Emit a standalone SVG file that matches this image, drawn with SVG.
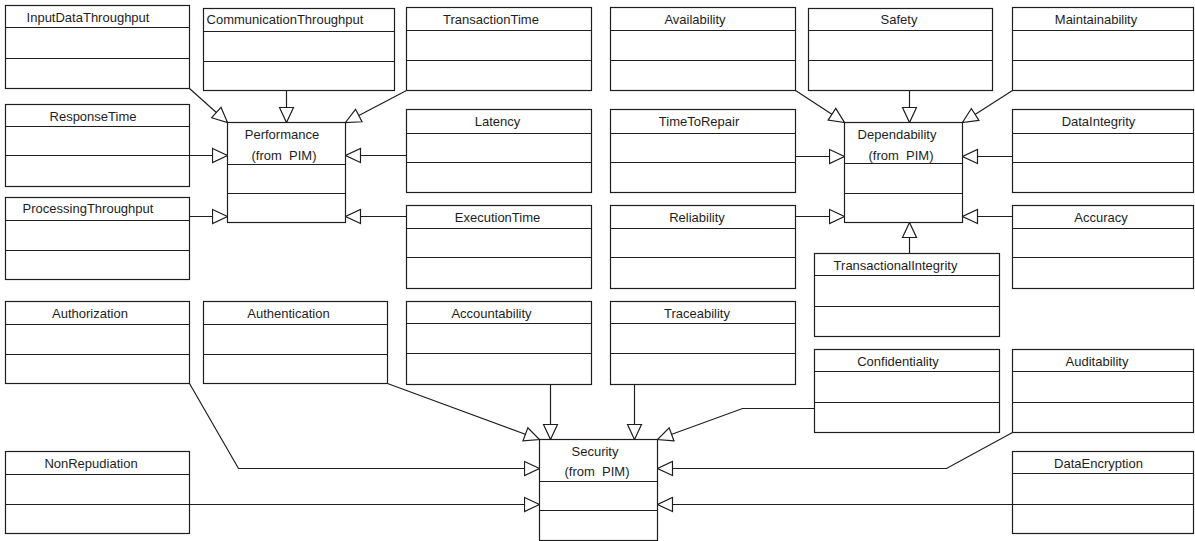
<svg xmlns="http://www.w3.org/2000/svg" width="1195" height="541" viewBox="0 0 1195 541">
  <style>
    .box { fill: #ffffff; stroke: #1e1e1e; stroke-width: 1.2; }
    .div { stroke: #1e1e1e; stroke-width: 1.2; fill: none; }
    .lbl { font-family: "Liberation Sans", Arial, sans-serif; font-size: 13px; fill: #1e1e1e; text-anchor: middle; }
    .conn { fill: none; stroke: #1e1e1e; stroke-width: 1.2; marker-end: url(#gen); }
  </style>
  <defs>
    <!-- hollow generalization triangle, tip at the end of the line -->
    <marker id="gen" markerUnits="userSpaceOnUse" markerWidth="17" markerHeight="17" viewBox="-1 -1 17 16" refX="15" refY="7" orient="auto">
      <path d="M0,0 L15,7 L0,14 Z" fill="#ffffff" stroke="#1e1e1e" stroke-width="1.2"/>
    </marker>
  </defs>
  <rect width="1195" height="541" fill="#ffffff"/>

  <!-- connectors -->
  <g id="connectors">
    <path class="conn" d="M189.5,88.5 L227.5,122.5"/>
    <path class="conn" d="M286.5,90.5 L286.5,122.5"/>
    <path class="conn" d="M406.5,90.5 L345.5,122.5"/>
    <path class="conn" d="M189.5,155.5 L227.5,155.5"/>
    <path class="conn" d="M406.5,155.5 L345.5,155.5"/>
    <path class="conn" d="M189.5,216.5 L227.5,216.5"/>
    <path class="conn" d="M406.5,216.5 L345.5,216.5"/>
    <path class="conn" d="M795.5,90.5 L844.5,122.5"/>
    <path class="conn" d="M909.5,90.5 L909.5,122.5"/>
    <path class="conn" d="M1012.5,90.5 L962.5,122.5"/>
    <path class="conn" d="M795.5,156.5 L844.5,156.5"/>
    <path class="conn" d="M1012.5,156.5 L962.5,156.5"/>
    <path class="conn" d="M795.5,216.5 L844.5,216.5"/>
    <path class="conn" d="M1012.5,216.5 L962.5,216.5"/>
    <path class="conn" d="M909.5,253.5 L909.5,222.5"/>
    <path class="conn" d="M189.5,383.5 L238.5,468.5 L539.5,468.5"/>
    <path class="conn" d="M387.5,383.5 L539.5,439.5"/>
    <path class="conn" d="M550.5,384.5 L550.5,439.5"/>
    <path class="conn" d="M634.5,384.5 L634.5,439.5"/>
    <path class="conn" d="M814.5,408.5 L742.5,408.5 L657.5,439.5"/>
    <path class="conn" d="M189.5,504.5 L539.5,504.5"/>
    <path class="conn" d="M1012.5,432.5 L946.5,468.5 L657.5,468.5"/>
    <path class="conn" d="M1012.5,504.5 L657.5,504.5"/>
  </g>

  <!-- classes: rect, header divider, attribute divider, name -->
  <g id="InputDataThroughput">
    <rect class="box" x="5.5" y="5.5" width="184" height="83"/>
    <path class="div" d="M5.5,27.5 H189.5 M5.5,58.5 H189.5"/>
    <text class="lbl" x="88" y="21.5">InputDataThroughput</text>
  </g>
  <g id="CommunicationThroughput">
    <rect class="box" x="203.5" y="8.5" width="191" height="82"/>
    <path class="div" d="M203.5,31.5 H394.5 M203.5,61.5 H394.5"/>
    <text class="lbl" x="285" y="24">CommunicationThroughput</text>
  </g>
  <g id="TransactionTime">
    <rect class="box" x="406.5" y="7.5" width="185" height="83"/>
    <path class="div" d="M406.5,30.5 H591.5 M406.5,60.5 H591.5"/>
    <text class="lbl" x="491" y="23.5">TransactionTime</text>
  </g>
  <g id="Availability">
    <rect class="box" x="610.5" y="7.5" width="185" height="83"/>
    <path class="div" d="M610.5,30.5 H795.5 M610.5,60.5 H795.5"/>
    <text class="lbl" x="695" y="23.5">Availability</text>
  </g>
  <g id="Safety">
    <rect class="box" x="808.5" y="8.5" width="184" height="82"/>
    <path class="div" d="M808.5,30.5 H992.5 M808.5,60.5 H992.5"/>
    <text class="lbl" x="899" y="24">Safety</text>
  </g>
  <g id="Maintainability">
    <rect class="box" x="1012.5" y="7.5" width="181" height="83"/>
    <path class="div" d="M1012.5,30.5 H1193.5 M1012.5,60.5 H1193.5"/>
    <text class="lbl" x="1096" y="23.5">Maintainability</text>
  </g>

  <g id="ResponseTime">
    <rect class="box" x="5.5" y="104.5" width="184" height="82"/>
    <path class="div" d="M5.5,126.5 H189.5 M5.5,155.5 H189.5"/>
    <text class="lbl" x="93" y="120.5">ResponseTime</text>
  </g>
  <g id="Performance">
    <rect class="box" x="227.5" y="122.5" width="118" height="100"/>
    <path class="div" d="M227.5,164.5 H345.5 M227.5,193.5 H345.5"/>
    <text class="lbl" x="282" y="138.5">Performance</text>
    <text class="lbl" x="284" y="159.5" xml:space="preserve">(from  PIM)</text>
  </g>
  <g id="Latency">
    <rect class="box" x="406.5" y="109.5" width="185" height="83"/>
    <path class="div" d="M406.5,133.5 H591.5 M406.5,162.5 H591.5"/>
    <text class="lbl" x="497.5" y="125.5">Latency</text>
  </g>
  <g id="TimeToRepair">
    <rect class="box" x="610.5" y="109.5" width="185" height="83"/>
    <path class="div" d="M610.5,133.5 H795.5 M610.5,162.5 H795.5"/>
    <text class="lbl" x="699" y="125.5">TimeToRepair</text>
  </g>
  <g id="Dependability">
    <rect class="box" x="844.5" y="122.5" width="118" height="100"/>
    <path class="div" d="M844.5,163.5 H962.5 M844.5,193.5 H962.5"/>
    <text class="lbl" x="897" y="138.5">Dependability</text>
    <text class="lbl" x="901" y="159.5" xml:space="preserve">(from  PIM)</text>
  </g>
  <g id="DataIntegrity">
    <rect class="box" x="1012.5" y="109.5" width="181" height="83"/>
    <path class="div" d="M1012.5,133.5 H1193.5 M1012.5,162.5 H1193.5"/>
    <text class="lbl" x="1098.5" y="125.5">DataIntegrity</text>
  </g>

  <g id="ProcessingThroughput">
    <rect class="box" x="5.5" y="197.5" width="184" height="82"/>
    <path class="div" d="M5.5,220.5 H189.5 M5.5,250.5 H189.5"/>
    <text class="lbl" x="88" y="213">ProcessingThroughput</text>
  </g>
  <g id="ExecutionTime">
    <rect class="box" x="406.5" y="205.5" width="185" height="83"/>
    <path class="div" d="M406.5,228.5 H591.5 M406.5,257.5 H591.5"/>
    <text class="lbl" x="497.5" y="221.5">ExecutionTime</text>
  </g>
  <g id="Reliability">
    <rect class="box" x="610.5" y="205.5" width="185" height="83"/>
    <path class="div" d="M610.5,228.5 H795.5 M610.5,257.5 H795.5"/>
    <text class="lbl" x="697" y="221.5">Reliability</text>
  </g>
  <g id="Accuracy">
    <rect class="box" x="1012.5" y="205.5" width="181" height="83"/>
    <path class="div" d="M1012.5,228.5 H1193.5 M1012.5,257.5 H1193.5"/>
    <text class="lbl" x="1101" y="221.5">Accuracy</text>
  </g>
  <g id="TransactionalIntegrity">
    <rect class="box" x="814.5" y="253.5" width="185" height="83"/>
    <path class="div" d="M814.5,275.5 H999.5 M814.5,306.5 H999.5"/>
    <text class="lbl" x="895.5" y="269.5">TransactionalIntegrity</text>
  </g>

  <g id="Authorization">
    <rect class="box" x="5.5" y="301.5" width="184" height="82"/>
    <path class="div" d="M5.5,324.5 H189.5 M5.5,354.5 H189.5"/>
    <text class="lbl" x="90" y="317.5">Authorization</text>
  </g>
  <g id="Authentication">
    <rect class="box" x="203.5" y="301.5" width="184" height="82"/>
    <path class="div" d="M203.5,324.5 H387.5 M203.5,354.5 H387.5"/>
    <text class="lbl" x="288.5" y="317.5">Authentication</text>
  </g>
  <g id="Accountability">
    <rect class="box" x="406.5" y="301.5" width="185" height="83"/>
    <path class="div" d="M406.5,323.5 H591.5 M406.5,353.5 H591.5"/>
    <text class="lbl" x="491.5" y="317.5">Accountability</text>
  </g>
  <g id="Traceability">
    <rect class="box" x="610.5" y="301.5" width="185" height="83"/>
    <path class="div" d="M610.5,323.5 H795.5 M610.5,353.5 H795.5"/>
    <text class="lbl" x="697" y="317.5">Traceability</text>
  </g>
  <g id="Confidentiality">
    <rect class="box" x="814.5" y="349.5" width="185" height="83"/>
    <path class="div" d="M814.5,371.5 H999.5 M814.5,402.5 H999.5"/>
    <text class="lbl" x="898" y="365.5">Confidentiality</text>
  </g>
  <g id="Auditability">
    <rect class="box" x="1012.5" y="349.5" width="181" height="83"/>
    <path class="div" d="M1012.5,371.5 H1193.5 M1012.5,402.5 H1193.5"/>
    <text class="lbl" x="1097" y="365.5">Auditability</text>
  </g>

  <g id="NonRepudiation">
    <rect class="box" x="5.5" y="451.5" width="184" height="82"/>
    <path class="div" d="M5.5,474.5 H189.5 M5.5,504.5 H189.5"/>
    <text class="lbl" x="91" y="467.5">NonRepudiation</text>
  </g>
  <g id="Security">
    <rect class="box" x="539.5" y="439.5" width="118" height="101"/>
    <path class="div" d="M539.5,481.5 H657.5 M539.5,510.5 H657.5"/>
    <text class="lbl" x="595" y="455.5">Security</text>
    <text class="lbl" x="597" y="476" xml:space="preserve">(from  PIM)</text>
  </g>
  <g id="DataEncryption">
    <rect class="box" x="1012.5" y="451.5" width="181" height="82"/>
    <path class="div" d="M1012.5,473.5 H1193.5 M1012.5,504.5 H1193.5"/>
    <text class="lbl" x="1098.5" y="467.5">DataEncryption</text>
  </g>
</svg>
